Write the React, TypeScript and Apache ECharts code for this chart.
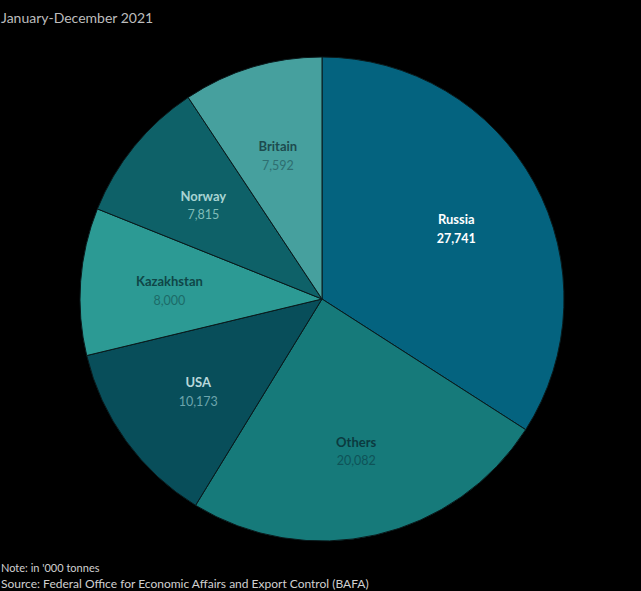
import React, { useEffect, useRef } from "react";
import * as echarts from "echarts";

const categories = ["Russia", "Others", "USA", "Kazakhstan", "Norway", "Britain"];
const values = [27741, 20082, 10173, 8000, 7815, 7592];
const sliceColors = ["#04637f", "#167a7a", "#084e5a", "#2c9a94", "#0e6168", "#46a09e"];
const nameColors = ["#ffffff", "#0b3a40", "#b8d8db", "#0f4647", "#a8d4d2", "#1d4b4e"];
const valueColors = ["#ffffff", "#0e5358", "#6da5ad", "#1c6b68", "#80bdb9", "#2e6e70"];
const valueWeights = ["bold", "normal", "normal", "normal", "normal", "normal"];

const titleText = "January-December 2021";
const noteText = "Note: in '000 tonnes";
const sourceText = "Source: Federal Office for Economic Affairs and Export Control (BAFA)";

const fmt = (v: number) => v.toLocaleString("en-US");
const FONT = "Lato, 'Noto Sans', sans-serif";

export default function App() {
  const ref = useRef<HTMLDivElement>(null);
  useEffect(() => {
    if (!ref.current) return;
    const chart = echarts.init(ref.current, null, { renderer: "svg" });
    const center = [322, 299];
    chart.setOption({
      animation: false,
      backgroundColor: "#000000",
      textStyle: { fontFamily: FONT },
      graphic: [
        { type: "text", left: 1, top: 10, style: { text: titleText, fill: "#bdbdbd", fontSize: 14, fontFamily: FONT } },
        { type: "text", left: 1, top: 562, style: { text: noteText, fill: "#d0d0d0", fontSize: 11, fontFamily: FONT } },
        { type: "text", left: 1, top: 577, style: { text: sourceText, fill: "#d0d0d0", fontSize: 12, fontFamily: FONT } },
      ],
      series: [
        {
          type: "pie",
          center,
          radius: [0, 242],
          startAngle: 90,
          clockwise: true,
          silent: true,
          label: { show: false },
          labelLine: { show: false },
          itemStyle: { borderColor: "#0a1a1c", borderWidth: 1 },
          data: categories.map((n, i) => ({ name: n, value: values[i], itemStyle: { color: sliceColors[i] } })),
        },
        {
          type: "pie",
          center,
          radius: [58, 242],
          startAngle: 90,
          clockwise: true,
          silent: true,
          itemStyle: { color: "rgba(0,0,0,0)", borderWidth: 0 },
          labelLine: { show: false },
          data: categories.map((n, i) => ({
            name: n,
            value: values[i],
            label: {
              show: true,
              position: "inside",
              padding: [6, 0, 0, 0],
              formatter: `{n|${n}}\n{v|${fmt(values[i])}}`,
              rich: {
                n: { color: nameColors[i], fontSize: 13, fontWeight: "bold", fontFamily: FONT, lineHeight: 19 },
                v: { color: valueColors[i], fontSize: 12.5, fontWeight: valueWeights[i], fontFamily: FONT, lineHeight: 19 },
              },
            },
          })),
        },
      ],
    });
    return () => chart.dispose();
  }, []);
  return <div ref={ref} style={{ position: "fixed", left: 0, top: 0, width: 641, height: 591 }} />;
}
